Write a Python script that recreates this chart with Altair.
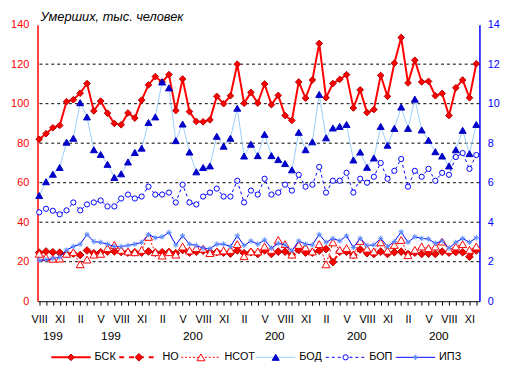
import altair as alt
import pandas as pd

# ---------------- data ----------------
ROMAN = ["I", "II", "III", "IV", "V", "VI", "VII", "VIII", "IX", "X", "XI", "XII"]
MONTHS = ROMAN[7:] + ROMAN * 5          # VIII 1998 ... XII 2003
YEARS = [1998] * 5 + [1999] * 12 + [2000] * 12 + [2001] * 12 + [2002] * 12 + [2003] * 12
YEAR_TEXT = {1998: "199", 1999: "199", 2000: "200", 2001: "200", 2002: "200", 2003: "200"}
SHOWN_MONTHS = ["VIII", "XI", "II", "V"]

TITLE = "Умерших, тыс. человек"
SERIES = ["БСК", "НО", "НСОТ", "БОД", "БОП", "ИПЗ"]

# left axis (thousand persons, 0-140)
BSK = [82, 84.8, 87.8, 89, 101, 102, 105.3, 110.2, 96.3, 101.3, 95.2, 90, 89.3, 95.3, 92.7,
       101.8, 109.5, 113.7, 111, 114.7, 96.5, 112.5, 96, 91, 90.8, 91.8, 103.7, 100, 104, 120,
       100.2, 105.7, 100.3, 110, 99.5, 104.2, 94, 91.5, 111, 102.8, 112, 130.5, 103, 110.2,
       112.3, 114.7, 97.8, 107, 95.5, 97, 114.3, 103.7, 120.5, 133.5, 110.5, 122, 111, 111.3,
       104, 105.2, 94, 108, 112, 103, 120.2]
NO = [24.6, 25.2, 24.8, 24.6, 23.9, 24.1, 23.4, 25.7, 24.3, 24.8, 25.2, 25.2, 24.9, 24.6, 24.8,
      24.6, 25.2, 24.6, 24.8, 24.9, 24.3, 25.9, 24.6, 25.1, 25.6, 24.9, 24.9, 24.6, 24.1, 25.7,
      24.3, 24.8, 23.9, 25.7, 23.9, 25.1, 25.1, 23.6, 25.9, 24.6, 24.6, 25.6, 26.4, 19.8, 25.1,
      25.1, 23.4, 26.2, 24.3, 23.9, 25.1, 23.9, 24.8, 25.1, 23.9, 24.6, 23.9, 24.1, 23.9, 25.1,
      24.6, 24.9, 24.8, 22.5, 25.7]
NSOT = [24.0, 22.3, 21.5, 21.6, 24, 24.8, 18.7, 21.1, 23.6, 24, 26.9, 28.5, 26, 25.2, 24.8, 26,
        32.6, 24.8, 23.1, 24.8, 23.6, 27.7, 25.7, 26.9, 26.6, 24.4, 25.2, 25.7, 26, 28.9, 22.8,
        25.2, 25.2, 27.7, 26, 31, 28.9, 23.6, 28.5, 27.2, 25.2, 28.9, 18.7, 29.8, 26, 26.9, 23.6,
        30.5, 26.6, 25.2, 29.8, 25.6, 28.5, 31, 23.3, 26, 27.7, 26.9, 27.7, 30.2, 26, 27.7, 28.9,
        26, 27.7]
# right axis (thousand persons, 0-14)
BOD = [5.35, 6.05, 6.43, 6.77, 8.05, 8.25, 10.05, 9.33, 7.67, 7.43, 6.93, 6.27, 6.45, 7.05, 7.53,
       7.75, 9.05, 9.33, 11.1, 10.8, 8.13, 8.97, 7.55, 6.55, 6.77, 6.85, 8.35, 7.85, 8.25, 9.77,
       7.35, 7.95, 7.37, 8.45, 7.37, 7.17, 6.97, 6.65, 8.55, 7.67, 8.07, 10.47, 8.27, 8.77, 8.85,
       8.95, 7.15, 7.55, 6.78, 7.25, 8.85, 7.9, 8.75, 9.83, 8.75, 10.23, 8.67, 8.15, 7.57, 7.35,
       6.85, 7.67, 8.65, 7.47, 8.95]
BOP = [4.5, 4.68, 4.58, 4.4, 4.6, 5.0, 4.6, 4.9, 5.0, 5.1, 4.8, 4.8, 5.2, 5.4, 5.2, 5.3, 5.8, 5.4,
       5.4, 5.5, 5.0, 5.9, 5.0, 4.9, 5.3, 5.5, 5.7, 5.3, 5.3, 6.1, 5.0, 5.6, 5.4, 6.2, 5.4, 5.5,
       5.9, 5.6, 6.4, 5.8, 5.9, 6.8, 5.5, 6.1, 6.1, 6.5, 5.5, 6.2, 6.0, 6.3, 7.0, 6.2, 6.6, 7.2,
       5.8, 6.6, 6.3, 6.7, 6.1, 6.5, 6.4, 7.3, 7.5, 6.7, 7.4]
IPZ = [2.08, 2.10, 2.16, 2.23, 2.59, 2.77, 2.89, 3.38, 3.02, 2.98, 2.89, 2.77, 2.77, 2.82, 2.89,
       2.98, 3.38, 3.21, 3.26, 3.48, 2.85, 3.31, 2.89, 2.82, 2.69, 2.66, 2.89, 2.89, 2.77, 3.31,
       2.82, 3.05, 2.89, 3.10, 2.69, 2.93, 2.85, 2.56, 3.05, 2.89, 2.85, 3.38, 2.98, 3.18, 3.05,
       3.31, 2.72, 3.18, 2.82, 2.85, 3.18, 2.77, 3.02, 3.51, 2.98, 3.26, 3.18, 3.15, 2.93, 3.05,
       2.69, 2.98, 3.18, 2.98, 3.21]

LEFT_TICKS = [0, 20, 40, 60, 80, 100, 120, 140]
RIGHT_TICKS = [0, 2, 4, 6, 8, 10, 12, 14]
GRID = [20, 40, 60, 80, 100, 120]

# ---------------- styles ----------------
FONT = "Liberation Sans"
RED = "#FF0000"
DARKRED = "#B00000"
BLUE = "#0000FF"
NAVY = "#0000C8"
LIGHTBLUE = "#99CCFF"
SKY = "#5B8CFF"
ASTERISK = "M-1,0L1,0M0,-1L0,1M-0.7,-0.7L0.7,0.7M-0.7,0.7L0.7,-0.7"

W, H = 449, 281
STYLES = {
    "БСК": dict(line=dict(color=RED, strokeWidth=2),
                point=dict(shape="diamond", size=45, filled=True, fill=RED, stroke=DARKRED, strokeWidth=1)),
    "НО": dict(line=dict(color=RED, strokeWidth=2, strokeDash=[5, 5]),
               point=dict(shape="diamond", size=60, filled=True, fill=RED, stroke=DARKRED, strokeWidth=1)),
    "НСОТ": dict(line=dict(color=RED, strokeWidth=1, strokeDash=[2, 2]),
                 point=dict(shape="triangle-up", size=65, filled=False, fill="white", fillOpacity=1,
                            stroke=RED, strokeWidth=1)),
    "БОД": dict(line=dict(color=LIGHTBLUE, strokeWidth=1),
                point=dict(shape="triangle-up", size=50, filled=True, fill=NAVY, stroke=NAVY, strokeWidth=1)),
    "БОП": dict(line=dict(color=BLUE, strokeWidth=1, strokeDash=[3, 3]),
                point=dict(shape="circle", size=28, filled=False, fill="white", fillOpacity=1,
                           stroke=BLUE, strokeWidth=1)),
    "ИПЗ": dict(line=dict(color=BLUE, strokeWidth=1),
                point=dict(shape=ASTERISK, size=30, filled=False, stroke=SKY, strokeWidth=1)),
}

x_scale = alt.Scale(domain=[-0.245, 64.46], nice=False, zero=False)
left_scale = alt.Scale(domain=[0, 140], nice=False)
right_scale = alt.Scale(domain=[0, 14], nice=False)

month_js = "[" + ",".join("'" + (m if m in SHOWN_MONTHS else "") + "'" for m in MONTHS) + "]"
x_axis = alt.Axis(values=list(range(len(MONTHS))), labelExpr=f"{month_js}[round(datum.value)]",
                  tickSize=4, tickColor="black", domainColor="black", domainWidth=1,
                  labelFont=FONT, labelFontSize=11, labelColor="black", labelPadding=9,
                  labelOverlap=False, labelBound=False, labelFlush=False, grid=False, title=None)
left_axis = alt.Axis(values=LEFT_TICKS, orient="left", ticks=False, labelPadding=9,
                     labelColor=RED, domainColor=RED, domainWidth=1.5, grid=False,
                     labelFont=FONT, labelFontSize=11, title=None)
right_axis = alt.Axis(values=RIGHT_TICKS, orient="right", ticks=False, labelPadding=8,
                      labelColor=BLUE, domainColor=BLUE, domainWidth=1.5, grid=False,
                      labelFont=FONT, labelFontSize=11, title=None)

X_ENC = dict(scale=x_scale, axis=x_axis, title=None)


def series_layers(name, values, y_scale, y_axis):
    df = pd.DataFrame({"idx": list(range(len(values))), "value": values, "month": MONTHS})
    st = STYLES[name]
    base = alt.Chart(df).encode(
        x=alt.X("idx:Q", **X_ENC),
        y=alt.Y("value:Q", scale=y_scale, axis=y_axis, title=None),
    )
    return [base.mark_line(**st["line"]), base.mark_point(opacity=1, **st["point"])]


grid = alt.Chart(pd.DataFrame({"g": GRID})).mark_rule(
    color="black", strokeDash=[3, 3], strokeWidth=1
).encode(y=alt.Y("g:Q", scale=left_scale, axis=left_axis, title=None))

year_df = pd.DataFrame({"idx": list(range(len(YEARS))), "year": YEARS})
year_df = year_df.groupby("year", as_index=False)["idx"].mean()
year_df["label"] = year_df["year"].map(YEAR_TEXT)
years = alt.Chart(year_df).mark_text(font=FONT, fontSize=12, fontWeight="normal", color="black",
                                     baseline="middle").encode(
    x=alt.X("idx:Q", **X_ENC), y=alt.value(H + 35), text="label:N"
)

title = alt.Chart(pd.DataFrame({"t": [TITLE]})).mark_text(
    font=FONT, fontSize=13, fontStyle="italic", color="black", align="left", baseline="alphabetic"
).encode(x=alt.value(3), y=alt.value(-4), text="t:N")

left = alt.layer(
    grid,
    *series_layers("БСК", BSK, left_scale, left_axis),
    *series_layers("НО", NO, left_scale, left_axis),
    *series_layers("НСОТ", NSOT, left_scale, left_axis),
    years, title,
)
right = alt.layer(
    *series_layers("БОД", BOD, right_scale, right_axis),
    *series_layers("БОП", BOP, right_scale, right_axis),
    *series_layers("ИПЗ", IPZ, right_scale, right_axis),
)

# legend (drawn manually to show line + marker samples)
LEG_Y = H + 57
LEG_STARTS = [14, 83, 146, 222, 293, 364]
legend_layers = []
for name, x0 in zip(SERIES, LEG_STARTS):
    st = STYLES[name]
    b = alt.Chart(pd.DataFrame({"name": [name]}))
    legend_layers.append(b.mark_rule(**st["line"]).encode(
        x=alt.value(x0), x2=alt.value(x0 + 40), y=alt.value(LEG_Y)))
    legend_layers.append(b.mark_point(opacity=1, **st["point"]).encode(
        x=alt.value(x0 + 20), y=alt.value(LEG_Y)))
    legend_layers.append(b.mark_text(font=FONT, fontSize=11, color="black", align="left",
                                     baseline="middle").encode(
        x=alt.value(x0 + 44), y=alt.value(LEG_Y), text="name:N"))
legend = alt.layer(*legend_layers)

chart = alt.layer(left, right, legend).resolve_scale(y="independent").properties(
    width=W, height=H,
    padding={"left": 30, "top": 14, "right": 28, "bottom": 70},
    autosize=alt.AutoSizeParams(type="none"),
    background="white",
).configure_view(strokeWidth=0)

chart.save("out.html", embed_options={"renderer": "svg", "actions": False})
